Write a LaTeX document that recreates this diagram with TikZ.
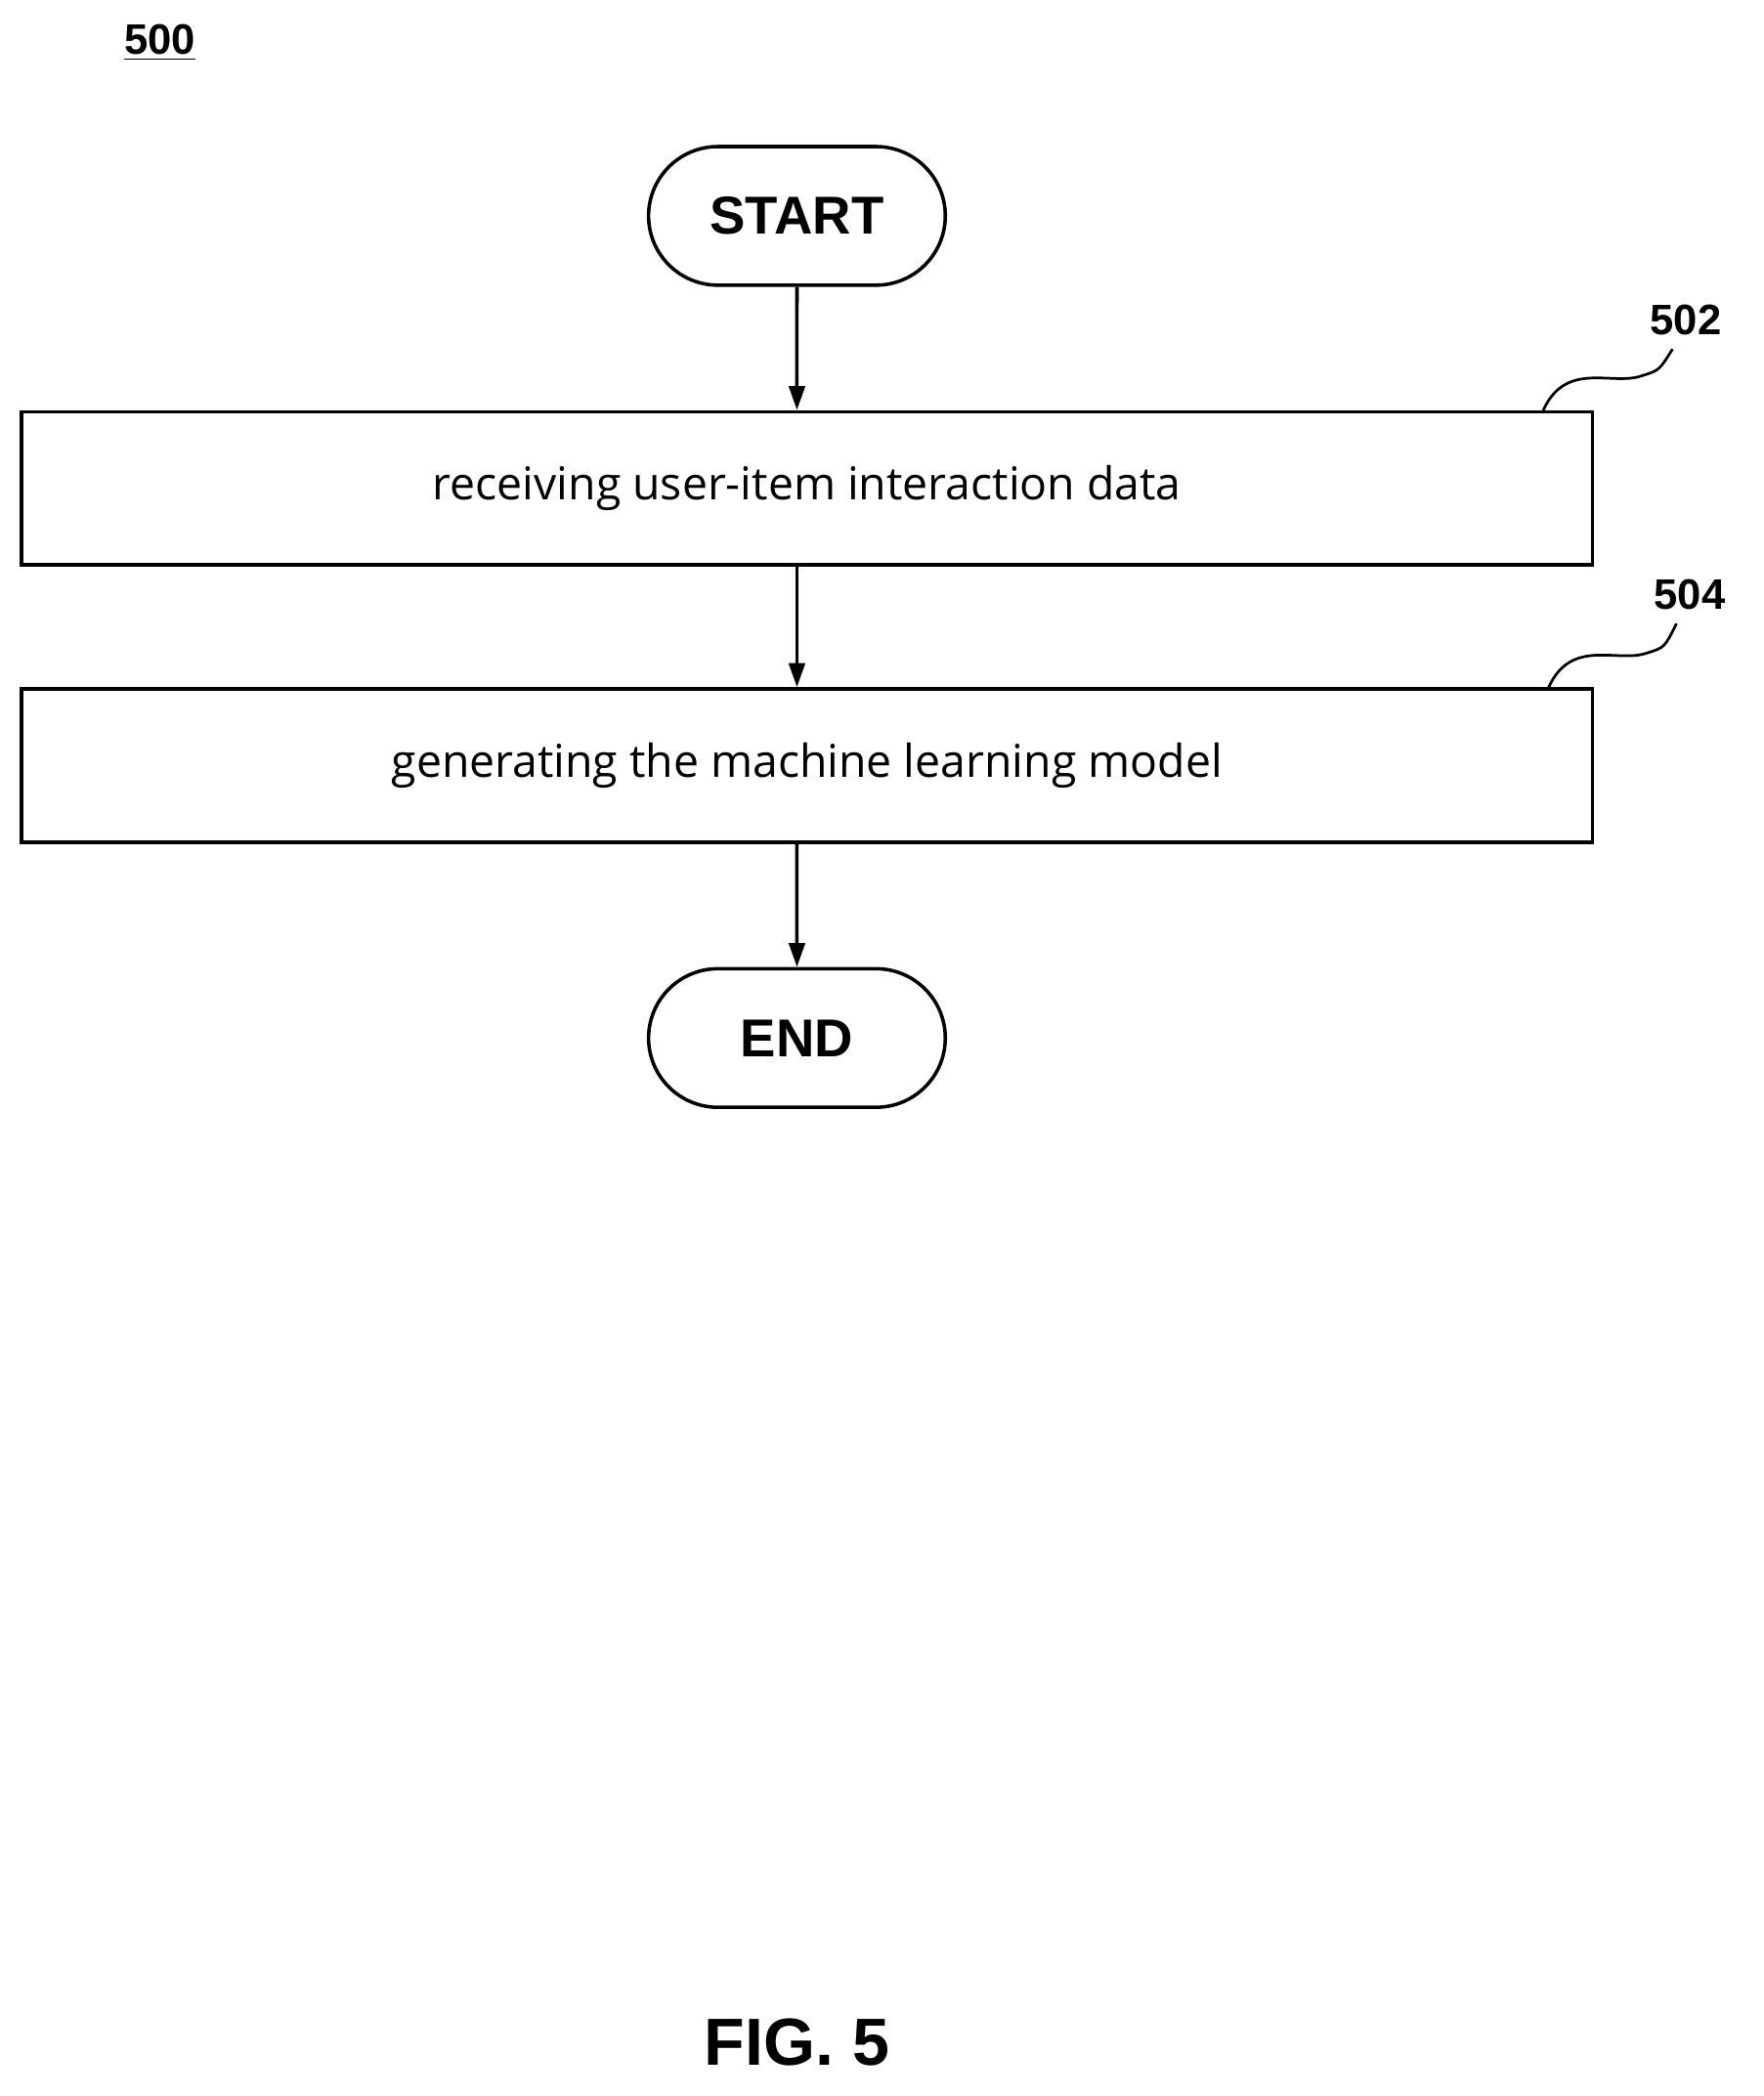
\documentclass[tikz,border=0pt]{standalone}
\usepackage{fontspec}
\setmainfont{Liberation Sans}
\newfontfamily\boxfont{Open Sans}
\usetikzlibrary{arrows.meta,shapes.misc}
\begin{document}
\begin{tikzpicture}[x=0.5pt,y=-0.5pt,
  term/.style={draw,line width=1.3pt,rounded rectangle,minimum width=118pt,minimum height=52pt,font=\bfseries\fontsize{20}{24}\selectfont},
  procbox/.style={draw,line width=1.3pt,minimum width=589.5pt,minimum height=57.5pt,font=\boxfont\fontsize{17}{20}\selectfont},
  arr/.style={line width=1.3pt,-{Triangle[length=9pt,width=6pt]}},
  lbl/.style={font=\bfseries\fontsize{16}{19}\selectfont},
  sq/.style={line width=1pt}]
\useasboundingbox (0,0) rectangle (1323,1573);
\node[lbl,inner sep=0pt] (n500) at (120,32) {\underline{500}};
\node[term] (start) at (598,162) {START};
\node[procbox] (s1) at (605.5,366.5) {receiving user-item interaction data};
\node[procbox] (s2) at (605.5,574.5) {generating the machine learning model};
\node[term] (end) at (598,779) {END};
\draw[arr] (start) -- (start|-s1.north);
\draw[arr] (s1.south-|start) -- (start|-s2.north);
\draw[arr] (s2.south-|start) -- (end);
\node[lbl] (l502) at (1265,240) {502};
\node[lbl] (l504) at (1268,446) {504};
\coordinate (a1) at (1158,308);
\coordinate (a2) at (1255,262);
\draw[sq] (a1) .. controls (1175,270) and (1210,290) .. (1232,282) .. controls (1245,278) .. (a2);
\coordinate (b1) at (1162,516);
\coordinate (b2) at (1258,468);
\draw[sq] (b1) .. controls (1179,478) and (1214,498) .. (1236,490) .. controls (1249,486) .. (b2);
\node[font=\bfseries\fontsize{25}{30}\selectfont] (fig) at (598,1533) {FIG. 5};
\end{tikzpicture}
\end{document}
